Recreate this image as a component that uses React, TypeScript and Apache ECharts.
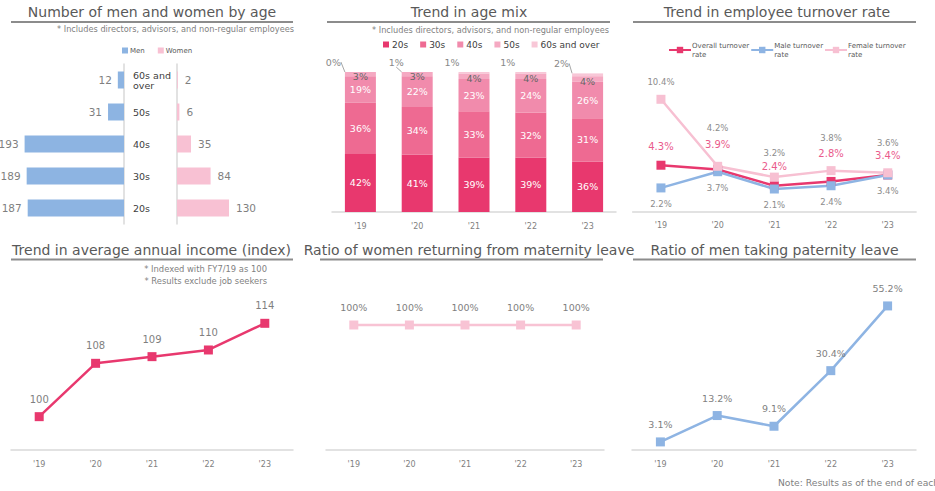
import React, { useEffect, useRef } from "react";
import * as echarts from "echarts";

// ---------- data ----------
const years = ["'19", "'20", "'21", "'22", "'23"];
const ageGroups = ["20s", "30s", "40s", "50s", "60s and over"];
const ageAxisLabels = ["20s", "30s", "40s", "50s", "60s and\nover"];
const menByAge = [187, 189, 193, 31, 12];
const womenByAge = [130, 84, 35, 6, 2];

const mix20s = [42, 41, 39, 39, 36];
const mix30s = [36, 34, 33, 32, 31];
const mix40s = [19, 22, 23, 24, 26];
const mix50s = [3, 3, 4, 4, 4];
const mix60s = [0, 1, 1, 1, 2];

const overallTurnover = [4.3, 3.9, 2.4, 2.8, 3.4];
const maleTurnover = [2.2, 3.7, 2.1, 2.4, 3.4];
const femaleTurnover = [10.4, 4.2, 3.2, 3.8, 3.6];

const incomeIndex = [100, 108, 109, 110, 114];
const maternityReturn = [100, 100, 100, 100, 100];
const paternityLeave = [3.1, 13.2, 9.1, 30.4, 55.2];

// ---------- label placement (style only) ----------
const overallLabelDy = [-18.6, -24.6, -18.8, -27.5, -19.3];
const femaleLabelDy = [-17.7, -38, -24.1, -32.7, -29.8];
const maleLabelDy = 16;
const mix60sLabelDx = [-27, -21, -22, -23, -26];
const mix60sLeader = [true, true, false, false, true];

const FONT = "DejaVu Sans";
const GRAY = "#7f7f7f";
const C20 = "#e8386e";
const C30 = "#ee6a92";
const C40 = "#f18bac";
const C50 = "#f5a9c2";
const C60 = "#f8c7d7";
const BLUE = "#8db4e2";
const PINK = "#f8c1d3";

function catAxis(gridIndex: number) {
  return {
    type: "category",
    gridIndex,
    data: years,
    axisLine: { show: true, lineStyle: { color: "#d9d9d9", width: 1.5 } },
    axisTick: { show: false },
    axisLabel: { color: GRAY, fontSize: 8, margin: 10, fontFamily: FONT },
    splitLine: { show: false },
  };
}

function title(text: string, x: number, y: number) {
  return {
    type: "text",
    x,
    y,
    style: { text, align: "center", verticalAlign: "middle", fontSize: 14, fontFamily: FONT, fill: "#595959" },
  };
}
function underline(x1: number, x2: number, y: number) {
  return { type: "line", shape: { x1, y1: y, x2, y2: y }, style: { stroke: "#8c8c8c", lineWidth: 2 } };
}
function note(text: string, x: number, y: number, align: string, size = 8.2) {
  return {
    type: "text",
    x,
    y,
    style: { text, align, verticalAlign: "middle", fontSize: size, fontFamily: FONT, fill: GRAY },
  };
}

function mixSeries(name: string, data: any[], color: string, label: any) {
  return {
    name,
    type: "bar",
    stack: "mix",
    xAxisIndex: 2,
    yAxisIndex: 2,
    barWidth: 31,
    data,
    itemStyle: { color },
    label,
  };
}

function lineSeries(name: string, data: any[], color: string, xi: number, extra: any = {}) {
  return {
    name,
    type: "line",
    xAxisIndex: xi,
    yAxisIndex: xi,
    data,
    symbol: "rect",
    symbolSize: 9,
    clip: false,
    lineStyle: { color, width: 2.5 },
    itemStyle: { color },
    ...extra,
  };
}

export default function App() {
  const ref = useRef<HTMLDivElement>(null);
  useEffect(() => {
    if (!ref.current) return;
    const chart = echarts.init(ref.current, undefined, { renderer: "svg" });

    const option: any = {
      animation: false,
      backgroundColor: "#ffffff",
      textStyle: { fontFamily: FONT },
      grid: [
        { left: 21, top: 64, width: 103, height: 160 },
        { left: 177, top: 64, width: 80, height: 160 },
        { left: 332, top: 72, width: 284, height: 140 },
        { left: 632.6, top: 82, width: 283.5, height: 129.7 },
        { left: 11, top: 283.3, width: 282, height: 166.7 },
        { left: 326, top: 300, width: 278, height: 150 },
        { left: 632, top: 293.4, width: 284, height: 156.6 },
      ],
      xAxis: [
        { type: "value", gridIndex: 0, inverse: true, min: 0, max: 200, show: false },
        { type: "value", gridIndex: 1, min: 0, max: 200, show: false },
        catAxis(2),
        catAxis(3),
        catAxis(4),
        catAxis(5),
        catAxis(6),
      ],
      yAxis: [
        {
          type: "category",
          gridIndex: 0,
          data: ageAxisLabels,
          position: "right",
          axisLine: { show: true, lineStyle: { color: "#d9d9d9", width: 1.5 } },
          axisTick: { show: false },
          axisLabel: { margin: 9, color: "#404040", fontSize: 9.5, align: "left", lineHeight: 10, fontFamily: FONT },
        },
        {
          type: "category",
          gridIndex: 1,
          data: ageGroups,
          position: "left",
          axisLine: { show: true, lineStyle: { color: "#d9d9d9", width: 1.5 } },
          axisTick: { show: false },
          axisLabel: { show: false },
        },
        { type: "value", gridIndex: 2, min: 0, max: 100, show: false },
        { type: "value", gridIndex: 3, min: 0, max: 12, show: false },
        { type: "value", gridIndex: 4, min: 95, max: 120, show: false },
        { type: "value", gridIndex: 5, min: 0, max: 120, show: false },
        { type: "value", gridIndex: 6, min: 0, max: 60, show: false },
      ],
      legend: [
        {
          data: ["Men", "Women"],
          left: 122,
          top: 47,
          padding: 0,
          icon: "rect",
          itemWidth: 6,
          itemHeight: 6,
          itemGap: 13,
          textStyle: { fontSize: 7, color: "#595959", fontFamily: FONT, padding: [0, 0, 0, -3] },
        },
        {
          data: ageGroups,
          left: 383,
          top: 40,
          padding: 0,
          icon: "rect",
          itemWidth: 6,
          itemHeight: 6,
          itemGap: 12,
          textStyle: { fontSize: 9, color: "#404040", fontFamily: FONT, padding: [0, 0, 0, -2] },
        },
        {
          data: ["Overall turnover rate", "Male turnover rate", "Female turnover rate"],
          left: 668,
          top: 41,
          padding: 0,
          itemWidth: 22,
          itemHeight: 8,
          itemGap: 1,
          formatter: (n: string) => n.replace(" rate", "\nrate"),
          textStyle: { fontSize: 7, lineHeight: 9, color: "#595959", fontFamily: FONT, padding: [0, 0, 0, -4] },
        },
      ],
      graphic: [
        title("Number of men and women by age", 152, 12),
        underline(11, 293, 22),
        title("Trend in age mix", 469, 12),
        underline(327, 610, 22),
        title("Trend in employee turnover rate", 777, 12),
        underline(633, 916, 22),
        title("Trend in average annual income (index)", 151.5, 250),
        underline(11, 293, 259.5),
        title("Ratio of women returning from maternity leave", 469, 250),
        underline(320, 603, 259.5),
        title("Ratio of men taking paternity leave", 774.5, 250),
        underline(633, 916, 259.5),
        note("* Includes directors, advisors, and non-regular employees", 294, 28.5, "right"),
        note("* Includes directors, advisors, and non-regular employees", 609, 29.5, "right"),
        note("* Indexed with FY7/19 as 100", 267, 269, "right", 8.4),
        note("* Results exclude job seekers", 267, 281, "right", 8.4),
        note("Note: Results as of the end of each fiscal year", 778, 482.5, "left", 9.2),
      ],
      series: [
        {
          name: "Men",
          type: "bar",
          xAxisIndex: 0,
          yAxisIndex: 0,
          data: menByAge,
          barWidth: 17,
          itemStyle: { color: BLUE },
          label: { show: true, position: "left", distance: 6, color: GRAY, fontSize: 10.5, fontFamily: FONT },
        },
        {
          name: "Women",
          type: "bar",
          xAxisIndex: 1,
          yAxisIndex: 1,
          data: womenByAge,
          barWidth: 17,
          itemStyle: { color: PINK },
          label: { show: true, position: "right", distance: 7, color: GRAY, fontSize: 10.5, fontFamily: FONT },
        },
        mixSeries("20s", mix20s, C20, { show: true, position: "inside", formatter: "{c}%", color: "#fff", fontSize: 9.5 }),
        mixSeries("30s", mix30s, C30, { show: true, position: "inside", formatter: "{c}%", color: "#fff", fontSize: 9.5 }),
        mixSeries("40s", mix40s, C40, { show: true, position: "inside", formatter: "{c}%", color: "#fff", fontSize: 9.5 }),
        mixSeries("50s", mix50s, C50, {
          show: true,
          position: "inside",
          formatter: "{c}%",
          color: "#666",
          fontSize: 9.5,
          offset: [0, 2],
        }),
        {
          ...mixSeries(
            "60s and over",
            mix60s.map((v, i) => ({ value: v, labelLine: { show: mix60sLeader[i] } })),
            C60,
            { show: true, position: "top", distance: 3, formatter: "{c}%", color: "#888", fontSize: 9.5 }
          ),
          labelLayout: (p: any) => ({ dx: mix60sLabelDx[p.dataIndex], dy: -2 }),
          labelLine: { show: true, lineStyle: { color: "#a6a6a6", width: 1 } },
        },
        lineSeries(
          "Overall turnover rate",
          overallTurnover.map((v, i) => ({ value: v, label: { offset: [0, overallLabelDy[i]] } })),
          C20,
          3,
          { label: { show: true, position: "inside", formatter: "{c}%", color: "#ea5b8c", fontSize: 10 } }
        ),
        lineSeries(
          "Male turnover rate",
          maleTurnover.map((v) => ({ value: v, label: { offset: [0, maleLabelDy] } })),
          "#8eb4e3",
          3,
          { label: { show: true, position: "inside", formatter: "{c}%", color: "#8c8c8c", fontSize: 8.5 } }
        ),
        lineSeries(
          "Female turnover rate",
          femaleTurnover.map((v, i) => ({ value: v, label: { offset: [0, femaleLabelDy[i]] } })),
          "#f7c0d2",
          3,
          { label: { show: true, position: "inside", formatter: "{c}%", color: "#8c8c8c", fontSize: 8.5 } }
        ),
        lineSeries("Average annual income", incomeIndex, C20, 4, {
          label: { show: true, position: "top", distance: 8, color: GRAY, fontSize: 10 },
        }),
        lineSeries("Maternity return", maternityReturn, "#f8c3d4", 5, {
          label: { show: true, position: "top", distance: 8, formatter: "{c}%", color: GRAY, fontSize: 9.5 },
        }),
        lineSeries("Paternity leave", paternityLeave, "#8eb4e3", 6, {
          label: { show: true, position: "top", distance: 8, formatter: "{c}%", color: GRAY, fontSize: 9.5 },
        }),
      ],
    };

    chart.setOption(option);
    return () => chart.dispose();
  }, []);

  return <div ref={ref} style={{ position: "fixed", left: 0, top: 0, width: 935, height: 491 }} />;
}
